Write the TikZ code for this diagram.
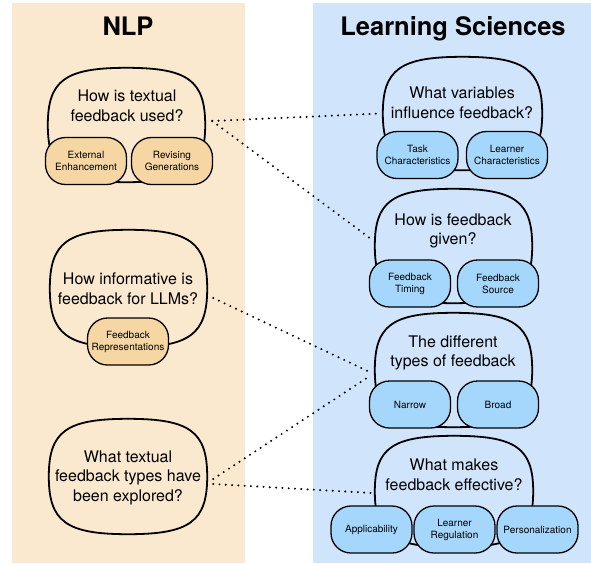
\documentclass[tikz,border=0pt]{standalone}
\usepackage{fontspec}
\setmainfont{TeX Gyre Heros}
\usetikzlibrary{calc}
\definecolor{nlpbg}{HTML}{FAE9CE}
\definecolor{nlpfill}{HTML}{F6D6A2}
\definecolor{lsbg}{HTML}{D0E4FB}
\definecolor{lsfill}{HTML}{A5D7FD}
\tikzset{
  blob/.style={inner sep=0pt, minimum width=157pt, minimum height=114pt},
  qtext/.style={align=center, font=\fontsize{16}{19.5}\selectfont},
  subbox/.style={draw, line width=1.3pt, rounded corners=20pt, inner sep=0pt, minimum width=81pt, minimum height=47pt, align=center, font=\fontsize{10}{12}\selectfont},
  dotlink/.style={line width=2.2pt, dash pattern=on 0pt off 6.3pt, line cap=round},
  paneltitle/.style={anchor=base, font=\fontsize{25.5}{30}\selectfont\bfseries}
}
% squircle outline round a blob node
\newcommand{\drawblob}[1]{%
  \draw[line width=1.8pt]
    (#1.west) .. controls ($(#1.west)!0.78!(#1.north west)$) and ($(#1.north)!0.78!(#1.north west)$) .. (#1.north)
    .. controls ($(#1.north)!0.78!(#1.north east)$) and ($(#1.east)!0.78!(#1.north east)$) .. (#1.east)
    .. controls ($(#1.east)!0.78!(#1.south east)$) and ($(#1.south)!0.78!(#1.south east)$) .. (#1.south)
    .. controls ($(#1.south)!0.78!(#1.south west)$) and ($(#1.west)!0.78!(#1.south west)$) .. cycle;}
\begin{document}
\begin{tikzpicture}[line join=round, x=1pt, y=-1pt]
\useasboundingbox (0,0) rectangle (591,563);
\fill[nlpbg] (12,3) rectangle (245,563);
\fill[lsbg] (313,3) rectangle (591,563);
\node[paneltitle] (nlp) at (128,35) {NLP};
\node[paneltitle] (ls) at (453,35) {Learning Sciences};
% NLP side
\node[blob] (q1) at (126.5,125) {};
\node[blob, minimum height=117pt] (q2) at (128.5,288.5) {};
\node[blob, minimum width=158pt, minimum height=115pt] (q3) at (128,476.5) {};
\foreach \b in {q1,q2,q3} {\drawblob{\b}}
\node[qtext] (q1t) at (127,106) {How is textual\\feedback used?};
\node[qtext] (q2t) at (128,289) {How informative is\\feedback for LLMs?};
\node[qtext] (q3t) at (128,477.5) {What textual\\feedback types have\\been explored?};
\foreach \x/\y/\n/\t in {86/161/e1/{External\\Enhancement}, 172/161/e2/{Revising\\Generations}, 128/341.5/r1/{Feedback\\Representations}}
  {\node[subbox, fill=nlpfill] (\n) at (\x,\y) {\t};}
% Learning Sciences side
\node[blob, minimum width=159pt, minimum height=113pt] (v1) at (462.5,113.5) {};
\node[blob] (v2) at (453.5,246) {};
\node[blob] (v3) at (453.5,370) {};
\node[blob, minimum width=158pt, minimum height=111pt] (v4) at (454,491.5) {};
\foreach \b in {v1,v2,v3,v4} {\drawblob{\b}}
\node[qtext] (v1t) at (462,103) {What variables\\influence feedback?};
\node[qtext] (v2t) at (453,231) {How is feedback\\given?};
\node[qtext] (v3t) at (453,353) {The different\\types of feedback};
\node[qtext] (v4t) at (454,475) {What makes\\feedback effective?};
\foreach \x/\y/\n/\t in {417.5/155/t1/{Task\\Characteristics}, 507/155/t2/{Learner\\Characteristics},
  410/283.5/ft/{Feedback\\Timing}, 498/283.5/fs/{Feedback\\Source},
  410/404.5/nw/{Narrow}, 498/404.5/bd/{Broad},
  371.5/529.5/ap/{Applicability}, 454.5/529.5/lr/{Learner\\Regulation}, 537.5/529.5/pe/{Personalization}}
  {\node[subbox, fill=lsfill] (\n) at (\x,\y) {\t};}
% links
\draw[dotlink] ([xshift=7pt,yshift=4pt]q1.east) -- ([xshift=-2pt]v1.west);
\draw[dotlink] ([xshift=7pt,yshift=4pt]q1.east) -- ([xshift=-1pt,yshift=5pt]v2.west);
\draw[dotlink] ([xshift=6pt,yshift=-9.5pt]q2.east) -- ([xshift=-5pt,yshift=-2pt]v3.west);
\draw[dotlink] ([xshift=6pt,yshift=-2.5pt]q3.east) -- ([xshift=-5pt,yshift=-6pt]v3.west);
\draw[dotlink] ([xshift=6pt,yshift=-7.5pt]q3.east) -- ([xshift=-3pt,yshift=-1.5pt]v4.west);
\end{tikzpicture}
\end{document}
